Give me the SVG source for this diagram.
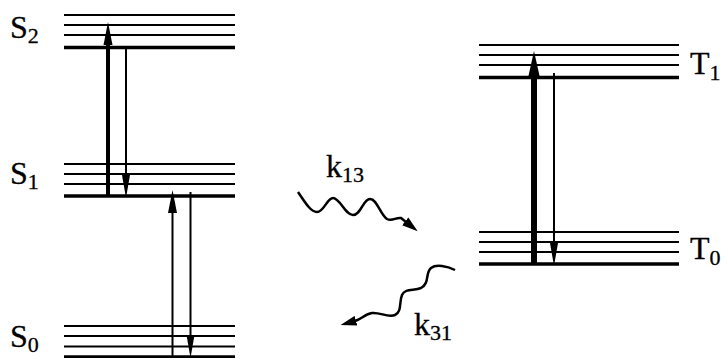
<svg xmlns="http://www.w3.org/2000/svg" width="727" height="358" viewBox="0 0 727 358">
<style>
.thin{stroke:#000;stroke-width:2;fill:none}
.thick{stroke:#000;stroke-width:3.5;fill:none}
.arr{stroke:#000;fill:none}
.lbl{font-family:'Liberation Serif','Times New Roman',serif;font-size:32px;fill:#000;stroke:#000;stroke-width:0.3}
.sub{font-size:22px}
</style>
<defs>
<marker id="hThin" markerUnits="userSpaceOnUse" markerWidth="23" markerHeight="9" viewBox="0 0 23 9" refX="0" refY="4.5" orient="auto"><path d="M0,0.5 L23,4.5 L0,8.5 z" fill="#000"/></marker>
<marker id="hMid" markerUnits="userSpaceOnUse" markerWidth="23" markerHeight="10" viewBox="0 0 23 10" refX="0" refY="5" orient="auto"><path d="M0,0.5 L23,5 L0,9.5 z" fill="#000"/></marker>
<marker id="hBig" markerUnits="userSpaceOnUse" markerWidth="27" markerHeight="13" viewBox="0 0 27 13" refX="0" refY="6.5" orient="auto"><path d="M0,0.5 L27,6.5 L0,12.5 z" fill="#000"/></marker>
<marker id="hWave" markerUnits="userSpaceOnUse" markerWidth="16" markerHeight="11" viewBox="0 0 16 11" refX="1" refY="5.5" orient="auto"><path d="M0,0.5 L16,5.5 L0,10.5 z" fill="#000"/></marker>
</defs>
<g id="S2">
<line class="thin" x1="64" y1="15" x2="235" y2="15"/>
<line class="thin" x1="64" y1="25" x2="235" y2="25"/>
<line class="thin" x1="64" y1="35" x2="235" y2="35"/>
<line class="thick" x1="64" y1="47.5" x2="235" y2="47.5"/>
<text class="lbl" x="10" y="38">S<tspan class="sub" dy="5">2</tspan></text>
</g>
<g id="S1">
<line class="thin" x1="64" y1="164" x2="235" y2="164"/>
<line class="thin" x1="64" y1="174" x2="235" y2="174"/>
<line class="thin" x1="64" y1="184" x2="235" y2="184"/>
<line class="thick" x1="64" y1="196" x2="235" y2="196"/>
<text class="lbl" x="10" y="184">S<tspan class="sub" dy="5">1</tspan></text>
</g>
<g id="S0">
<line class="thin" x1="64" y1="326" x2="235" y2="326"/>
<line class="thin" x1="64" y1="336" x2="235" y2="336"/>
<line class="thin" x1="64" y1="346.5" x2="235" y2="346.5"/>
<line class="thick" x1="64" y1="357" x2="235" y2="357"/>
<text class="lbl" x="10" y="347">S<tspan class="sub" dy="5">0</tspan></text>
</g>
<g id="T1">
<line class="thin" x1="479" y1="45" x2="679" y2="45"/>
<line class="thin" x1="479" y1="55" x2="679" y2="55"/>
<line class="thin" x1="479" y1="65" x2="679" y2="65"/>
<line class="thick" x1="479" y1="77.5" x2="679" y2="77.5"/>
<text class="lbl" x="690" y="74">T<tspan class="sub" dy="6">1</tspan></text>
</g>
<g id="T0">
<line class="thin" x1="479" y1="232" x2="679" y2="232"/>
<line class="thin" x1="479" y1="242" x2="679" y2="242"/>
<line class="thin" x1="479" y1="252" x2="679" y2="252"/>
<line class="thick" x1="479" y1="264" x2="679" y2="264"/>
<text class="lbl" x="690" y="259">T<tspan class="sub" dy="6">0</tspan></text>
</g>
<g id="connectors">
<line class="arr" stroke-width="4" x1="108" y1="197" x2="108" y2="45" marker-end="url(#hMid)"/>
<line class="arr" stroke-width="2" x1="126" y1="47" x2="126" y2="175" marker-end="url(#hThin)"/>
<line class="arr" stroke-width="2" x1="172.5" y1="358" x2="172.5" y2="213" marker-end="url(#hMid)"/>
<line class="arr" stroke-width="2" x1="190.5" y1="192" x2="190.5" y2="335" marker-end="url(#hThin)"/>
<line class="arr" stroke-width="6" x1="534" y1="265" x2="534" y2="78" marker-end="url(#hBig)"/>
<line class="arr" stroke-width="2" x1="554" y1="73" x2="554" y2="243" marker-end="url(#hThin)"/>
<path class="arr" stroke-width="2.5" d="M298,192 C306,204 311,212 317,212 C324,212 327,198 333,198 C340,198 345,215 353,215 C361,215 363,199 370,199 C377,199 380,214 387,219 C392,222 396,217 401,218 L406,222" marker-end="url(#hWave)"/>
<path class="arr" stroke-width="2.5" d="M455,270 C447,266 436,264 431,268 C425,273 430,283 421,288 C414,291 405,288 402,295 C399,302 402,312 395,315 C388,318 380,312 372,313 C365,314 362,319 355,321" marker-end="url(#hWave)"/>
<text class="lbl" x="326" y="177">k<tspan class="sub" dy="5">13</tspan></text>
<text class="lbl" x="414" y="335">k<tspan class="sub" dy="5">31</tspan></text>
</g>
</svg>
